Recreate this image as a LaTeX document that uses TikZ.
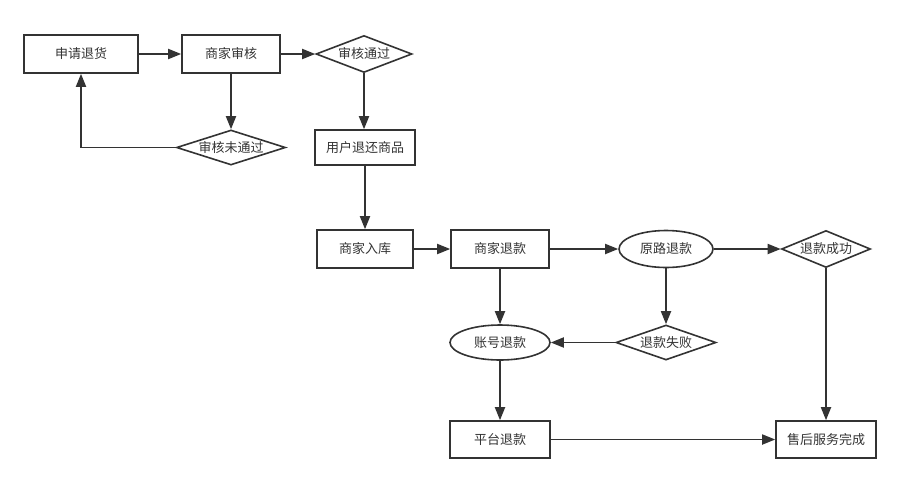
\documentclass[tikz,border=0pt]{standalone}
\usepackage{fontspec}
\setmainfont{Noto Sans CJK SC}
\usetikzlibrary{shapes.geometric,arrows.meta}
\definecolor{ink}{HTML}{333333}
\begin{document}
\begin{tikzpicture}[x=1pt,y=-1pt,
  every node/.style={font=\fontsize{13}{15}\selectfont,text=ink,draw=ink,line width=1.6pt,inner sep=0pt},
  box/.style={rectangle,minimum width=#1,minimum height=38},
  box/.default=98,
  dia/.style={diamond,aspect=3,minimum width=#1,minimum height=37},
  dia/.default=96,
  ell/.style={ellipse,minimum width=#1,minimum height=37},
  ell/.default=96,
  conn/.style={draw=ink,line width=1.8pt,-{Triangle[length=13pt,width=10pt]}}]
\useasboundingbox (0,0) rectangle (909,488);
\node[box=114] (a) at (81,54) {申请退货};
\node[box=98] (b) at (231,54) {商家审核};
\node[dia=96] (c) at (364,54) {审核通过};
\node[dia=109,minimum height=35] (d) at (231,147.5) {审核未通过};
\node[box=100,minimum height=35] (e) at (365,147.5) {用户退还商品};
\node[box=96] (f) at (365,249) {商家入库};
\node[box=98] (g) at (500,249) {商家退款};
\node[ell=94] (h) at (666,249) {原路退款};
\node[dia=89] (i) at (826,249) {退款成功};
\node[ell=100,minimum height=35] (j) at (500,342.5) {账号退款};
\node[dia=100,minimum height=35] (k) at (666,342.5) {退款失败};
\node[box=100,minimum height=37] (l) at (500,439.5) {平台退款};
\node[box=100,minimum height=37] (m) at (826,439.5) {售后服务完成};
\draw[conn] (a) -- (b);
\draw[conn] (b) -- (c);
\draw[conn] (b) -- (d);
\draw[conn] (d.west) -| (a.south);
\draw[conn] (c) -- (c |- e.north);
\draw[conn] (e) -- (f);
\draw[conn] (f) -- (g);
\draw[conn] (g) -- (h);
\draw[conn] (h) -- (i);
\draw[conn] (g) -- (j);
\draw[conn] (h) -- (k);
\draw[conn] (k) -- (j);
\draw[conn] (j) -- (l);
\draw[conn] (l) -- (m);
\draw[conn] (i) -- (m);
\end{tikzpicture}
\end{document}
